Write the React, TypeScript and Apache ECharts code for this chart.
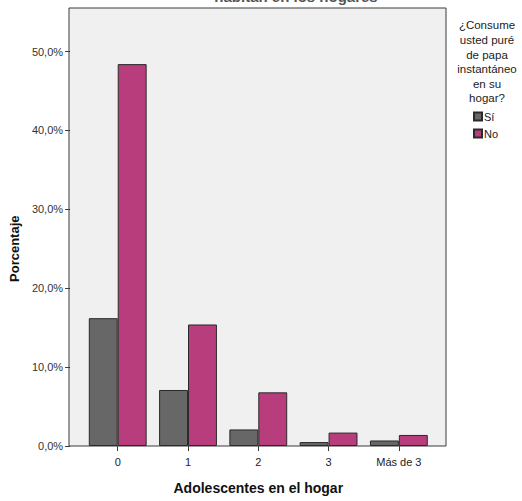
import React, { useEffect, useRef } from "react";
import * as echarts from "echarts";

const categories = ["0", "1", "2", "3", "Más de 3"];
const siValues = [16.2, 7.1, 2.1, 0.5, 0.7];
const noValues = [48.4, 15.4, 6.8, 1.7, 1.4];
const seriesNames = ["Sí", "No"];
const yTicks = [0, 10, 20, 30, 40, 50];

const FONT = "'Liberation Sans', Arial, sans-serif";

export default function App() {
  const ref = useRef<HTMLDivElement>(null);
  useEffect(() => {
    if (!ref.current) return;
    const chart = echarts.init(ref.current, null, { renderer: "svg" });
    const frameLeft = 69, frameTop = 8, frameRight = 446, frameBottom = 446;
    const pxPer10 = 78.9;
    const yMax = yTicks[yTicks.length - 1];
    const gridTop = frameBottom - (yMax / 10) * pxPer10;
    const innerLeft = 81.5, innerWidth = 352.5;
    chart.setOption({
      animation: false,
      textStyle: { fontFamily: FONT },
      graphic: [
        {
          type: "rect",
          z: -10,
          shape: { x: frameLeft, y: frameTop, width: frameRight - frameLeft, height: frameBottom - frameTop },
          style: { fill: "#F0F0F0", stroke: "#3a3a3a", lineWidth: 1 },
        },
        {
          type: "text",
          x: 296,
          y: -11,
          style: {
            text: "habitan en los hogares",
            textAlign: "center",
            fontFamily: FONT,
            fontSize: 15,
            fontWeight: "bold",
            fill: "#555",
          },
        },
        {
          type: "text",
          x: 487,
          y: 18,
          style: {
            text: "¿Consume\nusted puré\nde papa\ninstantáneo\nen su\nhogar?",
            textAlign: "center",
            fontFamily: FONT,
            fontSize: 11.5,
            lineHeight: 14.6,
            fill: "#222",
          },
        },
      ],
      legend: {
        data: seriesNames.map((n) => ({ name: n, icon: "rect" })),
        orient: "vertical",
        left: 473,
        top: 111,
        itemWidth: 8,
        itemHeight: 8,
        itemGap: 6,
        padding: 0,
        textStyle: { fontSize: 11, color: "#222", fontFamily: FONT, padding: [0, 0, 0, -3] },
      },
      grid: {
        left: innerLeft,
        width: innerWidth,
        top: gridTop,
        height: frameBottom - gridTop,
        containLabel: false,
      },
      xAxis: {
        type: "category",
        data: categories,
        name: "Adolescentes en el hogar",
        nameLocation: "middle",
        nameGap: 35,
        nameTextStyle: { fontSize: 14, fontWeight: "bold", color: "#111", fontFamily: FONT },
        axisLine: { show: false },
        axisTick: { show: true, alignWithLabel: true, length: 5, lineStyle: { color: "#3a3a3a" } },
        axisLabel: { fontSize: 11, color: "#222", margin: 10, fontFamily: FONT },
      },
      yAxis: {
        type: "value",
        min: 0,
        max: yMax,
        interval: 10,
        offset: innerLeft - frameLeft,
        name: "Porcentaje",
        nameLocation: "middle",
        nameGap: 46,
        nameTextStyle: { fontSize: 13, fontWeight: "bold", color: "#111", fontFamily: FONT },
        axisLine: { show: false },
        axisTick: { show: true, length: 5, lineStyle: { color: "#3a3a3a" } },
        splitLine: { show: false },
        axisLabel: {
          fontSize: 11,
          color: "#333",
          margin: 7,
          fontFamily: FONT,
          formatter: (v: number) => v.toFixed(1).replace(".", ",") + "%",
        },
      },
      series: [
        {
          name: seriesNames[0],
          type: "bar",
          data: siValues,
          barGap: "0%",
          barCategoryGap: "17.7%",
          itemStyle: { color: "#676767", borderColor: "#2a2a2a", borderWidth: 1 },
        },
        {
          name: seriesNames[1],
          type: "bar",
          data: noValues,
          barGap: "0%",
          barCategoryGap: "17.7%",
          itemStyle: { color: "#B83D7C", borderColor: "#2a2a2a", borderWidth: 1 },
        },
      ],
    });
    return () => chart.dispose();
  }, []);
  return <div ref={ref} style={{ width: 522, height: 501, position: "absolute", left: 0, top: 0 }} />;
}
